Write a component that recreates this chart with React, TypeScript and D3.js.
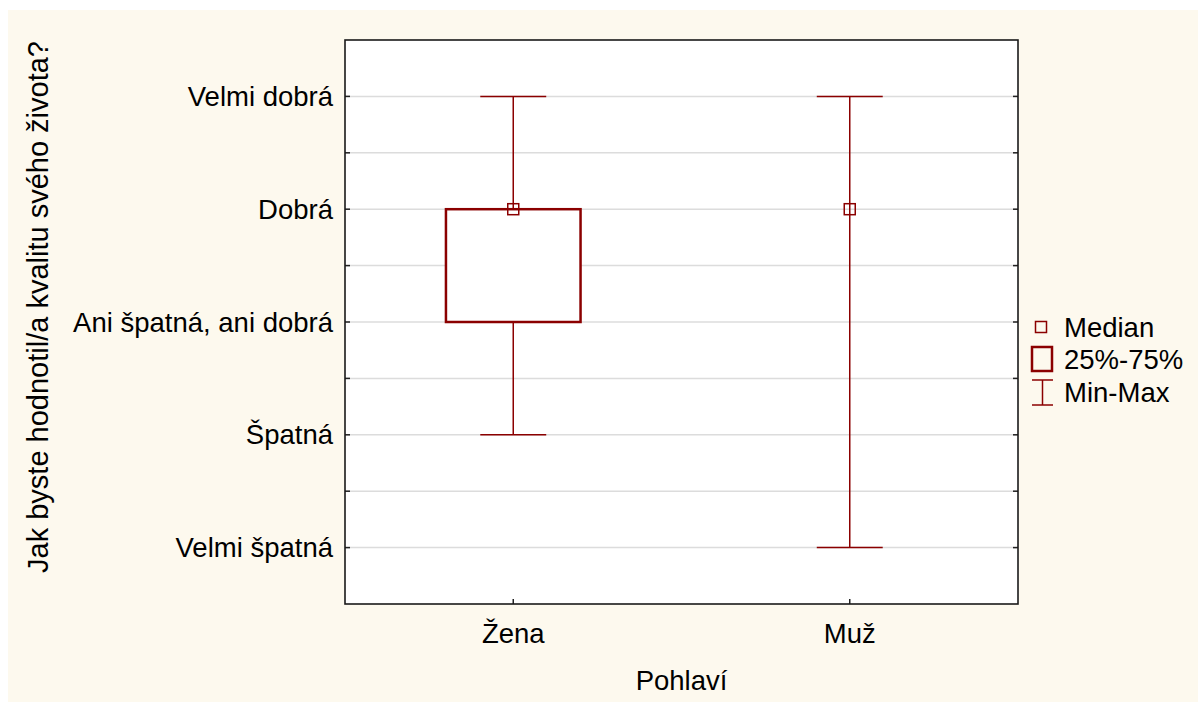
import React from "react";
import * as d3 from "d3";

const categories = ["Žena", "Muž"];
const medians = [4, 4];
const q1s: (number | null)[] = [3, null];
const q3s: (number | null)[] = [4, null];
const mins = [2, 1];
const maxs = [5, 5];
const yTickValues = [1, 2, 3, 4, 5];
const yTickLabels = ["Velmi špatná", "Špatná", "Ani špatná, ani dobrá", "Dobrá", "Velmi dobrá"];
const legendLabels = ["Median", "25%-75%", "Min-Max"];

const W = 1198;
const H = 702;
const plot = { left: 345, top: 40, right: 1018, bottom: 604 };
const RED = "#8b0000";
const FONT = "'Liberation Sans', Arial, sans-serif";
const FS = 27.5;

export default function App() {
  const x = d3.scaleBand<string>().domain(categories).range([plot.left, plot.right]).padding(0);
  const y = d3.scaleLinear().domain([0.5, 5.5]).range([plot.bottom, plot.top]);
  const bw = x.bandwidth();
  const boxW = bw * 0.4;
  const capW = bw * 0.196;
  const gridVals = d3.range(1, 5.01, 0.5);

  return (
    <svg width={W} height={H} style={{ display: "block", position: "absolute", left: 0, top: 0 }} fontFamily={FONT}>
      <rect x={0} y={0} width={W} height={H} fill="#ffffff" />
      <rect x={8} y={10} width={W - 8} height={H - 10} fill="#fdf9ee" />
      <rect x={plot.left} y={plot.top} width={plot.right - plot.left} height={plot.bottom - plot.top} fill="#ffffff" />
      {gridVals.map((v) => (
        <g key={"g" + v}>
          <line x1={plot.left} x2={plot.right} y1={y(v)} y2={y(v)} stroke="#dcdcdc" strokeWidth={1.5} />
          <line x1={plot.left} x2={plot.left + 5} y1={y(v)} y2={y(v)} stroke="#222" strokeWidth={1.5} />
          <line x1={plot.right - 5} x2={plot.right} y1={y(v)} y2={y(v)} stroke="#222" strokeWidth={1.5} />
        </g>
      ))}
      {categories.map((c) => (
        <line key={"xt" + c} x1={x(c)! + bw / 2} x2={x(c)! + bw / 2} y1={plot.bottom} y2={plot.bottom - 5} stroke="#222" strokeWidth={1.5} />
      ))}
      <rect x={plot.left} y={plot.top} width={plot.right - plot.left} height={plot.bottom - plot.top} fill="none" stroke="#1a1a1a" strokeWidth={1.6} />
      {yTickValues.map((v, i) => (
        <text key={"yl" + v} x={333} y={y(v)} dy="0.35em" textAnchor="end" fontSize={FS} fill="#000">
          {yTickLabels[i]}
        </text>
      ))}
      {categories.map((c) => (
        <text key={"xl" + c} x={x(c)! + bw / 2} y={643} textAnchor="middle" fontSize={FS} fill="#000">
          {c}
        </text>
      ))}
      <text x={(plot.left + plot.right) / 2} y={690} textAnchor="middle" fontSize={FS} fill="#000">
        Pohlaví
      </text>
      <text transform={`translate(48,307) rotate(-90)`} textAnchor="middle" fontSize={29} fill="#000">
        Jak byste hodnotil/a kvalitu svého života?
      </text>
      {categories.map((c, i) => {
        const cx = x(c)! + bw / 2;
        const q1 = q1s[i];
        const q3 = q3s[i];
        return (
          <g key={"b" + c} fill="none" stroke={RED}>
            <line x1={cx} x2={cx} y1={y(maxs[i])} y2={y(mins[i])} strokeWidth={1.5} />
            <line x1={cx - capW / 2} x2={cx + capW / 2} y1={y(maxs[i])} y2={y(maxs[i])} strokeWidth={1.5} />
            <line x1={cx - capW / 2} x2={cx + capW / 2} y1={y(mins[i])} y2={y(mins[i])} strokeWidth={1.5} />
            {q1 !== null && q3 !== null && (
              <rect x={cx - boxW / 2} y={y(q3)} width={boxW} height={y(q1) - y(q3)} fill="#ffffff" strokeWidth={2.5} />
            )}
            <rect x={cx - 5.5} y={y(medians[i]) - 5.5} width={11} height={11} strokeWidth={1.5} />
          </g>
        );
      })}
      <g>
        <rect x={1035.5} y={321.5} width={11} height={11} fill="none" stroke={RED} strokeWidth={1.5} />
        <rect x={1032} y={347} width={20} height={24} fill="none" stroke={RED} strokeWidth={2.5} />
        <line x1={1042.5} x2={1042.5} y1={380} y2={405} stroke={RED} strokeWidth={1.5} />
        <line x1={1032} x2={1053} y1={380} y2={380} stroke={RED} strokeWidth={1.5} />
        <line x1={1032} x2={1053} y1={405} y2={405} stroke={RED} strokeWidth={1.5} />
        {legendLabels.map((l, i) => (
          <text key={l} x={1064} y={327 + i * 32.5} dy="0.35em" fontSize={FS} fill="#000">
            {l}
          </text>
        ))}
      </g>
    </svg>
  );
}
